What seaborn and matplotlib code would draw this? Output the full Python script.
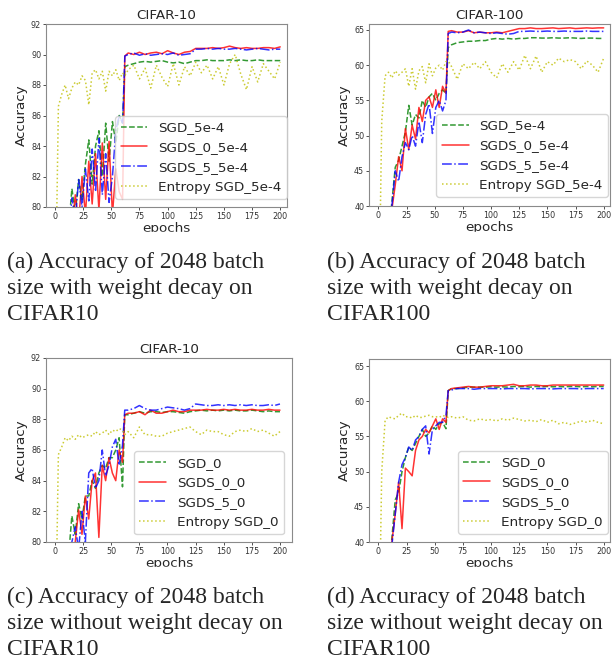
import matplotlib
matplotlib.use("Agg")
import matplotlib.pyplot as plt
from matplotlib.patches import Rectangle
import seaborn as sns

epochs = [0, 3, 6, 9, 12, 15, 18, 21, 24, 27,
          30, 33, 36, 39, 42, 45, 48, 51, 54, 57,
          60, 62, 65, 70, 75, 80, 85, 90, 95, 100,
          105, 110, 115, 120, 125, 130, 135, 140, 145, 150,
          155, 160, 165, 170, 175, 180, 185, 190, 195, 200]

# (a) CIFAR-10 with weight decay
c10_wd_sgd = [60.0, 68.0, 73.0, 76.0, 78.5, 81.2, 79.6, 81.8, 80.5, 82.8,
              84.4, 81.5, 84.0, 85.0, 82.0, 85.5, 83.0, 85.6, 84.2, 86.0,
              85.5, 89.2, 89.3, 89.4, 89.5, 89.55, 89.5, 89.55, 89.6, 89.5,
              89.45, 89.5, 89.4, 89.5, 89.6, 89.6, 89.65, 89.6, 89.6, 89.6,
              89.65, 89.6, 89.65, 89.6, 89.6, 89.65, 89.6, 89.6, 89.6, 89.6]
c10_wd_sgds0 = [58.0, 66.0, 71.0, 74.0, 77.0, 78.5, 80.8, 79.0, 82.0, 79.5,
                83.0, 80.2, 83.5, 79.8, 84.2, 80.5, 84.3, 79.5, 82.5, 81.0,
                80.5, 89.9, 90.1, 90.0, 90.15, 90.0, 90.1, 90.15, 90.05, 90.25,
                90.1, 90.0, 90.15, 90.2, 90.4, 90.4, 90.4, 90.45, 90.4, 90.45,
                90.55, 90.45, 90.4, 90.45, 90.4, 90.4, 90.45, 90.45, 90.4, 90.5]
c10_wd_sgds5 = [57.0, 65.0, 70.0, 74.0, 77.5, 80.6, 79.2, 81.8, 80.0, 82.5,
                80.4, 83.8, 81.0, 84.5, 80.8, 83.5, 80.3, 82.0, 85.0, 86.0,
                85.5, 89.9, 90.0, 90.1, 89.95, 90.05, 89.95, 90.0, 90.05, 90.0,
                90.1, 89.95, 90.0, 90.05, 90.35, 90.35, 90.4, 90.35, 90.4, 90.35,
                90.35, 90.4, 90.35, 90.3, 90.35, 90.4, 90.35, 90.3, 90.35, 90.35]
c10_wd_entropy = [72.0, 86.6, 87.4, 88.0, 87.1, 87.8, 88.2, 88.0, 88.6, 88.3,
                  86.7, 88.8, 89.0, 88.4, 88.9, 87.6, 88.9, 88.6, 89.0, 88.3,
                  88.8, 88.6, 89.0, 89.3, 88.4, 89.1, 87.8, 89.3, 88.5, 87.9,
                  89.4, 88.0, 89.2, 88.6, 89.5, 88.8, 89.3, 88.4, 89.2, 88.0,
                  89.4, 90.0, 88.7, 87.7, 89.2, 88.2, 89.4, 88.9, 88.4, 89.5]

# (b) CIFAR-100 with weight decay
c100_wd_sgd = [20.0, 27.0, 32.0, 36.0, 40.5, 45.5, 46.5, 48.5, 50.5, 54.3,
               51.5, 53.0, 52.5, 55.0, 54.0, 55.5, 56.0, 55.0, 56.0, 56.5,
               56.0, 62.5, 62.9, 63.2, 63.3, 63.4, 63.4, 63.5, 63.5, 63.7,
               63.8, 63.7, 63.8, 63.7, 63.8, 63.8, 63.9, 63.9, 63.85, 63.85,
               63.9, 63.85, 63.85, 63.9, 63.85, 63.8, 63.85, 63.85, 63.8, 63.8]
c100_wd_sgds0 = [18.0, 25.0, 30.0, 35.0, 39.5, 43.0, 47.0, 45.0, 51.0, 48.0,
                 51.5, 49.5, 54.0, 52.0, 55.0, 55.5, 54.0, 56.5, 54.0, 57.0,
                 56.0, 64.8, 64.9, 64.7, 64.7, 64.9, 64.6, 64.7, 64.6, 64.6,
                 64.7, 64.6, 64.8, 65.0, 65.2, 65.2, 65.3, 65.2, 65.2, 65.25,
                 65.3, 65.2, 65.25, 65.3, 65.2, 65.25, 65.3, 65.25, 65.3, 65.3]
c100_wd_sgds5 = [17.0, 24.0, 29.0, 34.0, 40.0, 45.0, 43.5, 47.0, 49.0, 48.0,
                 50.0, 48.5, 52.0, 49.0, 53.0, 54.5, 50.3, 54.0, 55.0, 53.5,
                 55.0, 64.5, 64.7, 64.6, 64.7, 65.0, 64.6, 64.7, 64.6, 64.5,
                 64.6, 64.5, 64.4, 64.5, 64.8, 64.8, 64.85, 64.8, 64.8, 64.85,
                 64.8, 64.8, 64.85, 64.8, 64.8, 64.8, 64.85, 64.8, 64.8, 64.8]
c100_wd_entropy = [20.0, 52.0, 58.5, 59.0, 58.2, 59.2, 58.6, 59.0, 59.5, 57.0,
                   59.5, 56.6, 59.2, 59.8, 57.5, 60.2, 58.5, 59.6, 60.0, 59.3,
                   60.5, 60.6, 59.8, 58.0, 60.2, 59.5, 60.4, 59.5, 60.5, 59.0,
                   58.2, 60.2, 59.0, 60.5, 59.3, 61.4, 59.5, 61.3, 59.0, 60.5,
                   60.0, 61.0, 60.5, 60.8, 60.5, 59.5, 60.6, 60.0, 59.0, 61.0]

# (c) CIFAR-10 without weight decay
c10_sgd = [60.0, 68.0, 73.0, 76.5, 79.0, 81.7, 80.5, 82.5, 81.5, 83.0,
           83.0, 84.0, 83.5, 84.5, 85.0, 84.8, 85.5, 85.5, 86.0, 86.8,
           83.6, 88.3, 88.3, 88.4, 88.5, 88.4, 88.5, 88.5, 88.45, 88.5,
           88.5, 88.45, 88.4, 88.5, 88.55, 88.6, 88.55, 88.6, 88.55, 88.6,
           88.55, 88.6, 88.55, 88.55, 88.6, 88.55, 88.5, 88.55, 88.5, 88.5]
c10_sgds0 = [58.0, 66.0, 71.0, 75.0, 78.0, 79.5, 80.0, 82.1, 80.5, 83.0,
             81.5, 84.0, 84.5, 80.3, 85.0, 84.0, 85.5, 84.5, 84.0, 86.0,
             85.2, 88.3, 88.4, 88.4, 88.5, 88.3, 88.6, 88.4, 88.4, 88.5,
             88.6, 88.5, 88.5, 88.6, 88.6, 88.6, 88.65, 88.6, 88.6, 88.65,
             88.6, 88.65, 88.6, 88.6, 88.65, 88.6, 88.6, 88.65, 88.6, 88.6]
c10_sgds5 = [57.0, 65.0, 70.0, 74.0, 77.5, 80.0, 81.0, 79.5, 82.0, 80.0,
             84.5, 84.8, 83.5, 84.0, 86.0, 84.3, 85.0, 86.2, 86.7, 85.0,
             86.3, 88.6, 88.6, 88.7, 88.9, 88.7, 88.6, 88.6, 88.7, 88.8,
             88.75, 88.7, 88.6, 88.7, 89.0, 88.95, 88.9, 88.9, 88.95, 88.9,
             88.95, 88.9, 88.95, 88.9, 88.95, 88.9, 88.9, 88.95, 88.9, 89.0]
c10_entropy = [72.0, 85.7, 86.2, 86.8, 86.6, 86.9, 86.7, 87.0, 86.8, 86.9,
               87.0, 86.9, 87.2, 87.0, 87.1, 87.3, 87.0, 87.3, 87.2, 87.4,
               87.3, 87.0, 87.2, 86.8, 87.5, 87.0, 87.0, 86.9, 86.9, 87.1,
               87.2, 87.3, 87.4, 87.5, 87.2, 87.0, 87.3, 87.2, 87.2, 87.0,
               86.9, 87.2, 87.3, 87.2, 87.4, 87.2, 87.3, 87.1, 86.9, 87.2]

# (d) CIFAR-100 without weight decay
c100_sgd = [20.0, 27.0, 32.0, 36.0, 40.5, 46.0, 47.0, 50.0, 52.0, 53.5,
            53.0, 54.0, 55.0, 56.0, 55.0, 55.5, 56.5, 56.0, 56.8, 57.0,
            56.1, 61.5, 61.8, 61.8, 61.9, 62.0, 62.0, 62.0, 62.0, 62.05,
            62.0, 62.05, 62.0, 62.1, 62.05, 62.1, 62.0, 62.1, 62.05, 62.1,
            62.05, 62.1, 62.05, 62.1, 62.1, 62.05, 62.1, 62.05, 62.1, 62.1]
c100_sgds0 = [18.0, 25.0, 30.0, 35.0, 40.0, 44.0, 48.5, 41.9, 50.5, 50.0,
              49.4, 53.0, 54.5, 55.0, 56.0, 55.5, 56.5, 57.5, 56.0, 57.5,
              57.0, 61.5, 61.8, 61.9, 62.0, 62.1, 62.0, 62.0, 62.1, 62.2,
              62.2, 62.2, 62.3, 62.4, 62.2, 62.2, 62.3, 62.3, 62.2, 62.2,
              62.3, 62.3, 62.3, 62.3, 62.3, 62.3, 62.3, 62.3, 62.3, 62.3]
c100_sgds5 = [17.0, 24.0, 29.0, 34.0, 39.5, 44.0, 48.5, 51.0, 52.0, 53.5,
              53.0, 54.5, 55.0, 56.0, 56.5, 52.5, 56.0, 56.5, 57.0, 57.0,
              58.0, 61.5, 61.6, 61.8, 61.8, 61.8, 61.7, 61.8, 61.8, 61.8,
              61.8, 61.75, 61.8, 61.8, 61.8, 61.8, 61.75, 61.8, 61.8, 61.8,
              61.75, 61.8, 61.8, 61.8, 61.8, 61.75, 61.8, 61.8, 61.8, 61.8]
c100_entropy = [20.0, 50.0, 57.3, 57.8, 57.6, 57.5, 58.0, 58.3, 57.8, 57.8,
                57.6, 58.0, 57.7, 57.7, 57.9, 58.0, 57.8, 57.8, 57.7, 58.0,
                57.8, 57.7, 57.8, 57.6, 57.8, 57.3, 57.2, 57.5, 57.3, 57.4,
                57.2, 57.5, 57.3, 57.6, 57.4, 57.2, 57.3, 57.1, 57.4, 57.0,
                57.3, 56.8, 57.0, 56.7, 56.9, 57.2, 57.0, 57.3, 57.0, 56.8]

labels_wd = ["SGD_5e-4", "SGDS_0_5e-4", "SGDS_5_5e-4", "Entropy SGD_5e-4"]
labels_nowd = ["SGD_0", "SGDS_0_0", "SGDS_5_0", "Entropy SGD_0"]

captions = [
    ["(a) Accuracy of 2048 batch", "size with weight decay on", "CIFAR10"],
    ["(b) Accuracy of 2048 batch", "size with weight decay on", "CIFAR100"],
    ["(c) Accuracy of 2048 batch", "size without weight decay on", "CIFAR10"],
    ["(d) Accuracy of 2048 batch", "size without weight decay on", "CIFAR100"],
]

colors = ["g", "r", "b", "y"]
styles = ["--", "-", "-.", ":"]

W, H = 612, 660
sns.set_style("ticks")
plt.rcParams["font.family"] = ["DejaVu Sans"]
fig = plt.figure(figsize=(W / 100, H / 100), dpi=100)


def px_axes(left, top, right, bottom):
    return fig.add_axes([left / W, 1 - bottom / H, (right - left) / W, (bottom - top) / H])


panels = [
    dict(box=(46, 24, 287, 207), title="CIFAR-10", series=[c10_wd_sgd, c10_wd_sgds0, c10_wd_sgds5, c10_wd_entropy],
         labels=labels_wd, xlim=(-8, 206), ylim=(80, 92), yticks=range(80, 93, 2), leg=(1.0, 0.044)),
    dict(box=(369, 24, 610, 206), title="CIFAR-100", series=[c100_wd_sgd, c100_wd_sgds0, c100_wd_sgds5, c100_wd_entropy],
         labels=labels_wd, xlim=(-8.3, 205.6), ylim=(40, 65.85), yticks=range(40, 66, 5), leg=(0.992, 0.049)),
    dict(box=(46, 358, 292, 542), title="CIFAR-10", series=[c10_sgd, c10_sgds0, c10_sgds5, c10_entropy],
         labels=labels_nowd, xlim=(-8, 210.7), ylim=(80, 92), yticks=range(80, 93, 2), leg=(0.967, 0.042)),
    dict(box=(369, 359, 610, 542), title="CIFAR-100", series=[c100_sgd, c100_sgds0, c100_sgds5, c100_entropy],
         labels=labels_nowd, xlim=(-8.3, 205.6), ylim=(40, 66), yticks=range(40, 66, 5), leg=(0.992, 0.044)),
]

for p in panels:
    ax = px_axes(*p["box"])
    for vals, lab, c, ls in zip(p["series"], p["labels"], colors, styles):
        sns.lineplot(x=epochs, y=vals, ax=ax, color=c, linestyle=ls, lw=1.1, alpha=0.8, label=lab)
    ax.set_xlim(*p["xlim"])
    ax.set_ylim(*p["ylim"])
    ax.set_xticks(range(0, 201, 25))
    ax.set_yticks(list(p["yticks"]))
    ax.tick_params(labelsize=5.8, length=2, width=0.6, pad=1.5, colors="#333333")
    for s in ax.spines.values():
        s.set_color("#8a8a8a")
        s.set_linewidth(0.8)
    ax.set_title(p["title"], fontsize=9.7, pad=3.5)
    ax.set_xlabel("epochs", fontsize=9.7, labelpad=1)
    ax.set_ylabel("Accuracy", fontsize=9.7, labelpad=2)
    ax.legend(loc="lower right", bbox_to_anchor=p["leg"], borderaxespad=0, fontsize=9.7,
              framealpha=0.8, edgecolor="0.8", fancybox=True)

# panel images were cropped just under the "epochs" label
fig.add_artist(Rectangle((0, 1 - 250 / H), 1, 18 / H, transform=fig.transFigure, color="white", zorder=10))
fig.add_artist(Rectangle((0, 1 - 585 / H), 1, 18 / H, transform=fig.transFigure, color="white", zorder=10))

cap_x = [7, 327, 7, 327]
cap_y = [268, 268, 603, 603]
for cap, x0, y0 in zip(captions, cap_x, cap_y):
    for i, line in enumerate(cap):
        fig.text(x0 / W, 1 - (y0 + 26 * i) / H, line, fontsize=17, family="Liberation Serif",
                 va="baseline", ha="left", zorder=11)

plt.savefig("out.png", dpi=100)
